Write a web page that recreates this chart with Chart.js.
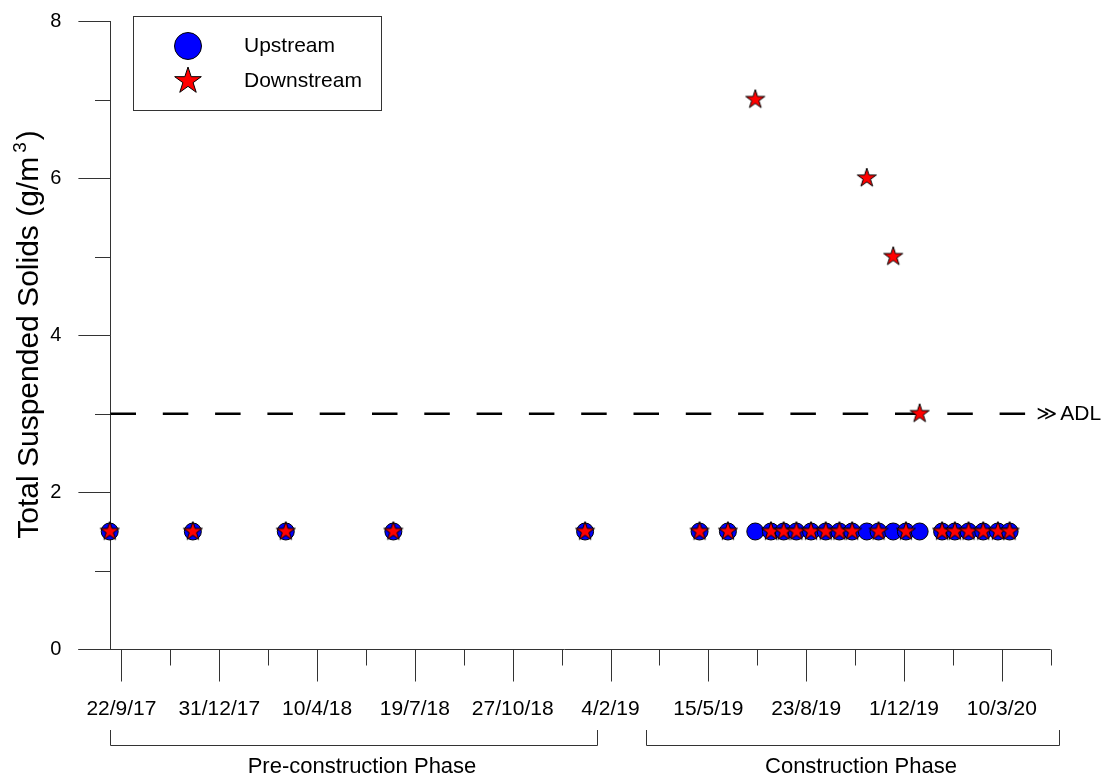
<!DOCTYPE html>
<html>
<head>
<meta charset="utf-8">
<script src="https://cdn.jsdelivr.net/npm/chart.js@4.4.1/dist/chart.umd.min.js"></script>
<style>
  html, body { margin: 0; padding: 0; background: #ffffff; }
  #wrap { width: 1107px; height: 778px; }
</style>
</head>
<body>
<div id="wrap"><canvas id="tss" width="1107" height="778"></canvas></div>
<script>
// ---- data -------------------------------------------------------------
// Day 0 of the time axis; tick labels fall every 100 days from here.
const ORIGIN_DATE = '2017-09-22';
const X_START = '2017-08-09';
const X_END = '2020-04-29';
const Y_AXIS_DATE = '2017-09-10';

const SAMPLE_DATES = [
  '2017-09-10', '2017-12-04', '2018-03-09', '2018-06-27', '2019-01-09',
  '2019-05-06', '2019-06-04', '2019-07-02', '2019-07-18', '2019-07-31',
  '2019-08-13', '2019-08-28', '2019-09-12', '2019-09-26', '2019-10-09',
  '2019-10-24', '2019-11-05', '2019-11-20', '2019-12-03', '2019-12-17',
  '2020-01-09', '2020-01-22', '2020-02-05', '2020-02-20', '2020-03-06',
  '2020-03-18'
];
const UPSTREAM_TSS = [
  1.5, 1.5, 1.5, 1.5, 1.5,
  1.5, 1.5, 1.5, 1.5, 1.5,
  1.5, 1.5, 1.5, 1.5, 1.5,
  1.5, 1.5, 1.5, 1.5, 1.5,
  1.5, 1.5, 1.5, 1.5, 1.5,
  1.5
];
const DOWNSTREAM_TSS = [
  1.5, 1.5, 1.5, 1.5, 1.5,
  1.5, 1.5, 7, 1.5, 1.5,
  1.5, 1.5, 1.5, 1.5, 1.5,
  6, 1.5, 5, 1.5, 3,
  1.5, 1.5, 1.5, 1.5, 1.5,
  1.5
];
const SERIES_NAMES = ['Upstream', 'Downstream'];

// Allowable discharge limit
const ADL_VALUE = 3;
const ADL_LABEL = 'ADL';
const ADL_END_DATE = '2020-04-03';

const PHASE_NAMES = ['Pre-construction Phase', 'Construction Phase'];
const PHASE_STARTS = ['2017-09-10', '2019-03-12'];
const PHASE_ENDS = ['2019-01-21', '2020-05-07'];

const Y_MIN = 0, Y_MAX = 8;
const Y_LABEL_STEP = 2, Y_MINOR_STEP = 1;
const X_LABEL_STEP = 100, X_MINOR_STEP = 50;

const Y_TITLE = 'Total Suspended Solids (g/m';
const Y_TITLE_SUP = '3';
const Y_TITLE_END = ')';

// ---- helpers ----------------------------------------------------------
const DAY_MS = 86400000;
const T0 = Date.parse(ORIGIN_DATE + 'T00:00:00Z');
const toDay = s => Math.round((Date.parse(s + 'T00:00:00Z') - T0) / DAY_MS);
const fmtDay = d => {
  const dt = new Date(T0 + d * DAY_MS);
  return dt.getUTCDate() + '/' + (dt.getUTCMonth() + 1) + '/' + String(dt.getUTCFullYear()).slice(2);
};

const FONT = '"Liberation Sans", Arial, Helvetica, sans-serif';
const AXIS_COLOR = '#333333';

function starCanvas(R) {
  const r = R * 0.382;
  const size = Math.ceil(2 * R + 4);
  const c = document.createElement('canvas');
  c.width = size; c.height = size;
  const g = c.getContext('2d');
  g.translate(size / 2, size / 2);
  g.beginPath();
  for (let k = 0; k < 10; k++) {
    const ang = -Math.PI / 2 + k * Math.PI / 5;
    const rad = k % 2 === 0 ? R : r;
    const px = rad * Math.cos(ang), py = rad * Math.sin(ang);
    if (k === 0) g.moveTo(px, py); else g.lineTo(px, py);
  }
  g.closePath();
  g.fillStyle = '#ff0000';
  g.fill();
  g.lineWidth = 1;
  g.strokeStyle = '#000000';
  g.lineJoin = 'miter';
  g.stroke();
  return c;
}
const STAR_PLOT = starCanvas(10);
const STAR_LEGEND = starCanvas(14);

// ---- axes, limit line, phase brackets, legend, titles ------------------
const framePlugin = {
  id: 'frame',
  beforeDatasetsDraw(chart) {
    const { ctx, chartArea: a, scales: { x, y } } = chart;
    ctx.save();
    ctx.strokeStyle = AXIS_COLOR;
    ctx.lineWidth = 1;

    // x axis baseline and ticks
    const yb = Math.round(y.getPixelForValue(Y_MIN)) + 0.5;
    ctx.beginPath();
    ctx.moveTo(a.left, yb);
    ctx.lineTo(a.right, yb);
    for (let d = 0; d <= x.max; d += X_MINOR_STEP) {
      const px = Math.round(x.getPixelForValue(d)) + 0.5;
      const len = d % X_LABEL_STEP === 0 ? 32 : 16;
      ctx.moveTo(px, yb);
      ctx.lineTo(px, yb + len);
    }
    ctx.stroke();

    // y axis line and ticks
    const xa = Math.round(x.getPixelForValue(toDay(Y_AXIS_DATE))) + 0.5;
    ctx.beginPath();
    ctx.moveTo(xa, y.getPixelForValue(Y_MIN));
    ctx.lineTo(xa, y.getPixelForValue(Y_MAX));
    for (let v = Y_MIN; v <= Y_MAX; v += Y_MINOR_STEP) {
      const py = Math.round(y.getPixelForValue(v)) + 0.5;
      const major = v % Y_LABEL_STEP === 0;
      ctx.moveTo(xa, py);
      ctx.lineTo(major ? a.left : xa - 15.5, py);
    }
    ctx.stroke();

    // ADL dashed line
    const ya = y.getPixelForValue(ADL_VALUE);
    const xEnd = x.getPixelForValue(toDay(ADL_END_DATE));
    ctx.strokeStyle = '#000000';
    ctx.lineWidth = 2.4;
    ctx.setLineDash([25.5, 26.8]);
    ctx.beginPath();
    ctx.moveTo(xa, ya);
    ctx.lineTo(xEnd, ya);
    ctx.stroke();
    ctx.setLineDash([]);

    ctx.fillStyle = '#000000';
    ctx.textBaseline = 'middle';
    ctx.textAlign = 'left';
    ctx.font = '20px "DejaVu Sans", ' + FONT;
    ctx.fillText('\u226B', xEnd + 11, ya + 1);
    ctx.font = '21px ' + FONT;
    ctx.fillText(ADL_LABEL, xEnd + 35, ya + 1);

    // phase brackets
    ctx.strokeStyle = AXIS_COLOR;
    ctx.lineWidth = 1;
    const yBr = 745.5, yTop = 730;
    PHASE_NAMES.forEach((name, i) => {
      const x1 = Math.round(x.getPixelForValue(toDay(PHASE_STARTS[i]))) + 0.5;
      const x2 = Math.round(x.getPixelForValue(toDay(PHASE_ENDS[i]))) + 0.5;
      ctx.beginPath();
      ctx.moveTo(x1, yTop);
      ctx.lineTo(x1, yBr);
      ctx.lineTo(x2, yBr);
      ctx.lineTo(x2, yTop);
      ctx.stroke();
      ctx.fillStyle = '#000000';
      ctx.textAlign = 'center';
      ctx.textBaseline = 'middle';
      ctx.font = '22px ' + FONT;
      ctx.fillText(name, (x1 + x2) / 2 + 8, 767);
    });

    // y axis title with superscript
    ctx.save();
    ctx.translate(38, 334.5);
    ctx.rotate(-Math.PI / 2);
    ctx.fillStyle = '#000000';
    ctx.textAlign = 'left';
    ctx.textBaseline = 'alphabetic';
    const big = '30px ' + FONT, small = '19px ' + FONT;
    ctx.font = big;
    const w1 = ctx.measureText(Y_TITLE).width;
    const w3 = ctx.measureText(Y_TITLE_END).width;
    ctx.font = small;
    const w2 = ctx.measureText(Y_TITLE_SUP).width;
    const total = w1 + 4 + w2 + 2 + w3;
    let tx = -total / 2;
    ctx.font = big;
    ctx.fillText(Y_TITLE, tx, 0);
    tx += w1 + 4;
    ctx.font = small;
    ctx.fillText(Y_TITLE_SUP, tx, -12);
    tx += w2 + 2;
    ctx.font = big;
    ctx.fillText(Y_TITLE_END, tx, 0);
    ctx.restore();

    ctx.restore();
  },
  afterDraw(chart) {
    const { ctx } = chart;
    ctx.save();
    // legend box
    ctx.strokeStyle = AXIS_COLOR;
    ctx.lineWidth = 1;
    ctx.strokeRect(133.5, 16.5, 248, 94);
    // circle entry
    ctx.beginPath();
    ctx.arc(188, 46, 13.5, 0, Math.PI * 2);
    ctx.fillStyle = '#0000ff';
    ctx.fill();
    ctx.strokeStyle = '#000000';
    ctx.stroke();
    // star entry
    ctx.drawImage(STAR_LEGEND, 188 - STAR_LEGEND.width / 2, 81 - STAR_LEGEND.height / 2);
    ctx.fillStyle = '#000000';
    ctx.font = '21px ' + FONT;
    ctx.textAlign = 'left';
    ctx.textBaseline = 'middle';
    ctx.fillText(SERIES_NAMES[0], 244, 46);
    ctx.fillText(SERIES_NAMES[1], 244, 81);
    ctx.restore();
  }
};

// ---- chart ------------------------------------------------------------
const xMin = toDay(X_START), xMax = toDay(X_END);

new Chart(document.getElementById('tss').getContext('2d'), {
  type: 'scatter',
  data: {
    datasets: [
      {
        label: SERIES_NAMES[0],
        data: SAMPLE_DATES.map((d, i) => ({ x: toDay(d), y: UPSTREAM_TSS[i] })),
        pointStyle: 'circle',
        pointRadius: 8.5,
        backgroundColor: '#0000ff',
        borderColor: '#000000',
        borderWidth: 1,
        order: 2
      },
      {
        label: SERIES_NAMES[1],
        data: SAMPLE_DATES.map((d, i) => ({ x: toDay(d), y: DOWNSTREAM_TSS[i] })),
        pointStyle: STAR_PLOT,
        pointRadius: 10,
        order: 1
      }
    ]
  },
  options: {
    responsive: false,
    animation: false,
    devicePixelRatio: 1,
    events: [],
    clip: false,
    layout: { padding: { left: 0, right: 56.3, top: 21, bottom: 0 } },
    plugins: { legend: { display: false }, tooltip: { enabled: false } },
    scales: {
      x: {
        type: 'linear',
        min: xMin,
        max: xMax,
        grid: { display: false, drawTicks: false },
        border: { display: false },
        afterFit(s) {
          s.height = 128.7;
          s.paddingLeft = 0;
          s.paddingRight = 0;
        },
        afterBuildTicks(s) {
          const t = [];
          for (let d = 0; d <= xMax; d += X_MINOR_STEP) t.push({ value: d });
          s.ticks = t;
        },
        ticks: {
          autoSkip: false,
          maxRotation: 0,
          minRotation: 0,
          padding: 47,
          color: '#000000',
          font: { family: FONT, size: 21 },
          callback: v => (v % X_LABEL_STEP === 0 ? fmtDay(v) : '')
        }
      },
      y: {
        type: 'linear',
        min: Y_MIN,
        max: Y_MAX,
        grid: { display: false, drawTicks: false },
        border: { display: false },
        afterFit(s) {
          s.width = 78.4;
          s.paddingTop = 0;
          s.paddingBottom = 0;
        },
        afterBuildTicks(s) {
          const t = [];
          for (let v = Y_MIN; v <= Y_MAX; v += Y_MINOR_STEP) t.push({ value: v });
          s.ticks = t;
        },
        ticks: {
          padding: 17,
          color: '#000000',
          font: { family: FONT, size: 20 },
          callback: v => (v % Y_LABEL_STEP === 0 ? String(v) : '')
        }
      }
    }
  },
  plugins: [framePlugin]
});
</script>
</body>
</html>
